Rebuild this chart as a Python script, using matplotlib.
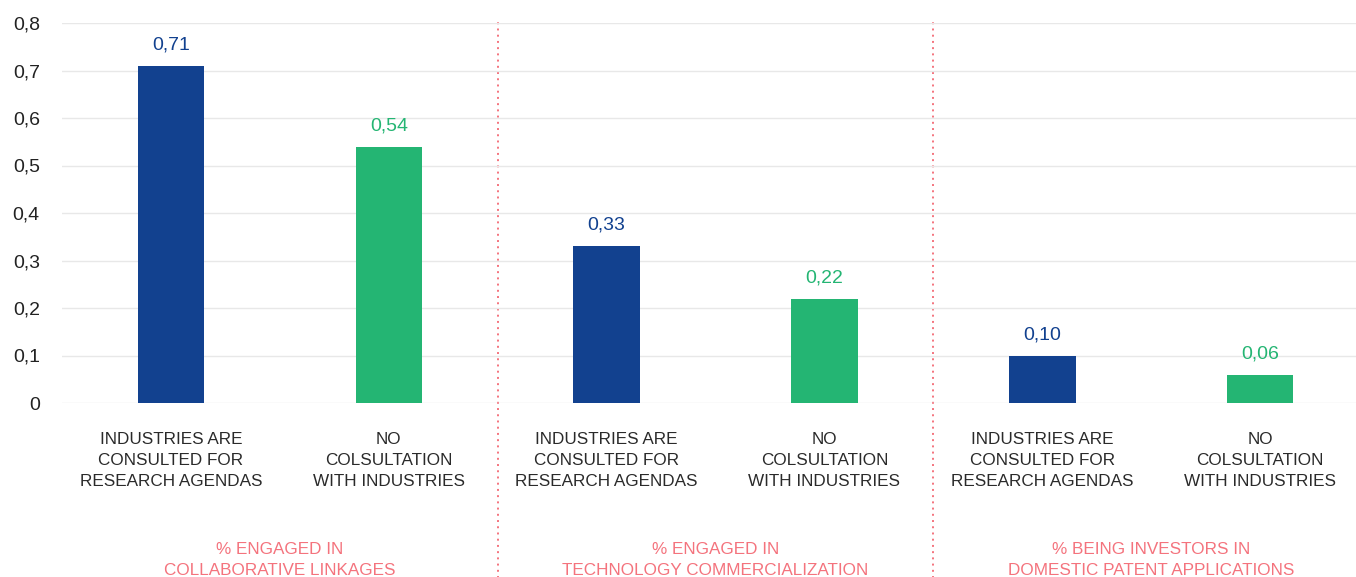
import matplotlib.pyplot as plt
import numpy as np

groups = ["% ENGAGED IN\nCOLLABORATIVE LINKAGES",
          "% ENGAGED IN\nTECHNOLOGY COMMERCIALIZATION",
          "% BEING INVESTORS IN\nDOMESTIC PATENT APPLICATIONS"]
categories = ["INDUSTRIES ARE\nCONSULTED FOR\nRESEARCH AGENDAS",
              "NO\nCOLSULTATION\nWITH INDUSTRIES"] * 3
values = [0.71, 0.54, 0.33, 0.22, 0.10, 0.06]
yticks = [0, 0.1, 0.2, 0.3, 0.4, 0.5, 0.6, 0.7, 0.8]
ytick_labels = ["0", "0,1", "0,2", "0,3", "0,4", "0,5", "0,6", "0,7", "0,8"]

blue = "#12418F"
green = "#24B573"
pink = "#F4737D"
colors = [blue, green] * 3

plt.rcParams['font.family'] = ['Liberation Sans', 'DejaVu Sans']

fig = plt.figure(figsize=(13.56, 5.77), dpi=100)
ax = fig.add_axes([62 / 1356, (577 - 403) / 577, 1 - 62 / 1356, 380 / 577])

x = np.arange(len(values))
ax.bar(x, values, width=0.305, color=colors, zorder=3)
for xi, v, c in zip(x, values, colors):
    ax.text(xi, v + 0.026, f"{v:.2f}".replace(".", ","), ha="center", va="bottom",
            color=c, fontsize=14)

ax.set_xlim(-0.5, 5.44)
ax.set_ylim(0, 0.8)
ax.set_yticks(yticks)
ax.set_yticklabels(ytick_labels, fontsize=14, color="#222222")
ax.set_xticks([])
ax.tick_params(axis="y", length=0, pad=16)
ax.grid(axis="y", color="#E8E8E8", linewidth=1, zorder=0)
for s in ax.spines.values():
    s.set_visible(False)

for xi, cat in zip(x, categories):
    ax.text(xi, -0.062, cat, ha="center", va="top", fontsize=12.3, color="#2a2a2a",
            linespacing=1.47)

for gi, g in enumerate(groups):
    ax.text(2 * gi + 0.5, -0.293, g, ha="center", va="top", fontsize=12.3,
            color=pink, linespacing=1.47)

for d in [1.5, 3.5]:
    ax.plot([d, d], [-0.4, 0.806], color=pink, linestyle=(0, (1, 2.2)),
            linewidth=1.4, clip_on=False, zorder=1)

fig.savefig("out.png", dpi=100)
